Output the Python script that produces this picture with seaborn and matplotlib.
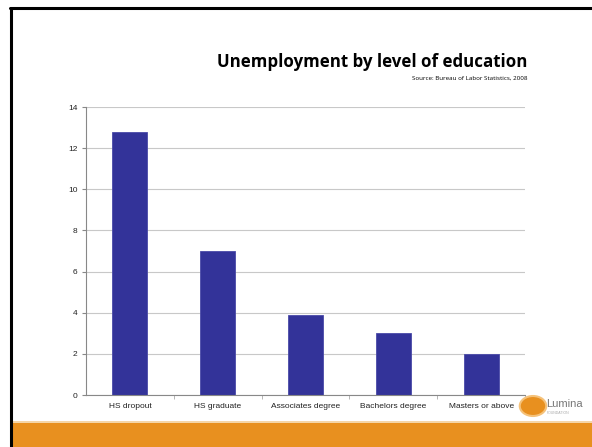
import matplotlib
matplotlib.use("Agg")
import matplotlib.pyplot as plt
import seaborn as sns
import pandas as pd
from matplotlib.patches import Rectangle, Circle
from matplotlib.lines import Line2D

categories = ["HS dropout", "HS graduate", "Associates degree", "Bachelors degree", "Masters or above"]
values = [12.8, 7.0, 3.9, 3.0, 2.0]
yticks = [0, 2, 4, 6, 8, 10, 12, 14]

df = pd.DataFrame({"category": categories, "value": values})

sns.set_style("white")
plt.rcParams['font.family'] = ['Liberation Sans', 'DejaVu Sans']
plt.rcParams['text.color'] = 'black'
plt.rcParams['xtick.color'] = 'black'
plt.rcParams['ytick.color'] = 'black'

fig = plt.figure(figsize=(5.92, 4.47), dpi=100)
ax = fig.add_axes([86/592, 1-395/447, (525-86)/592, (395-107)/447])

sns.barplot(data=df, x="category", y="value", color="#333399", width=0.4,
            edgecolor="#4a4aa8", linewidth=0.6, saturation=1, ax=ax)

ax.set_ylim(0, 14)
ax.set_xlim(-0.5, 4.5)
ax.set_yticks(yticks)
ax.set_yticklabels([str(t) for t in yticks], fontsize=6, color="#222222")
ax.tick_params(axis='x', labelsize=6, length=0, pad=6, labelcolor="#222222")
ax.tick_params(axis='y', length=3, color='#888888', pad=3, left=True)
ax.set_xlabel("")
ax.set_ylabel("")
ax.yaxis.grid(True, color="#c8c8c8", linewidth=0.8)
ax.set_axisbelow(True)
for s in ["top", "right"]:
    ax.spines[s].set_visible(False)
for s in ["left", "bottom"]:
    ax.spines[s].set_color("#888888")
    ax.spines[s].set_linewidth(0.8)
ax.set_xticks([0.5, 1.5, 2.5, 3.5, 4.5], minor=True)
ax.tick_params(axis='x', which='minor', length=3, color='#aaaaaa', bottom=True)

fig.text(527/592, 1-62/447, "Unemployment by level of education", ha="right", va="center",
         fontsize=12.2, fontweight="bold", color="black", family=["Open Sans", "DejaVu Sans"])
fig.text(527/592, 1-78/447, "Source: Bureau of Labor Statistics, 2008", ha="right", va="center",
         fontsize=4.5, color="black", family=["Open Sans", "DejaVu Sans"])

fig.patches.append(Rectangle((12/592, 0), 1, 24/447, transform=fig.transFigure,
                             facecolor="#e8901f", edgecolor="none", zorder=0))
fig.patches.append(Rectangle((12/592, 24/447), 1, 2/447, transform=fig.transFigure,
                             facecolor="#f5d6a8", edgecolor="none", zorder=0))
fig.lines.append(Line2D([10/592, 1], [1-8/447, 1-8/447], transform=fig.transFigure,
                        color="black", linewidth=2.2))
fig.lines.append(Line2D([11/592, 11/592], [0, 1-8/447], transform=fig.transFigure,
                        color="black", linewidth=2.2))

fig.patches.append(Circle((533/592, 1-406/447), 10/447, transform=fig.transFigure,
                          facecolor="#e8901f", edgecolor="#f5c27a", linewidth=1.5, zorder=3))
fig.text(546/592, 1-404/447, "Lumina", ha="left", va="center", fontsize=8,
         color="#777777", family=["Liberation Sans", "DejaVu Sans"])
fig.text(547/592, 1-413/447, "FOUNDATION", ha="left", va="center", fontsize=2.5,
         color="#aaaaaa", family=["Liberation Sans", "DejaVu Sans"])

fig.savefig("out.png", dpi=100)
